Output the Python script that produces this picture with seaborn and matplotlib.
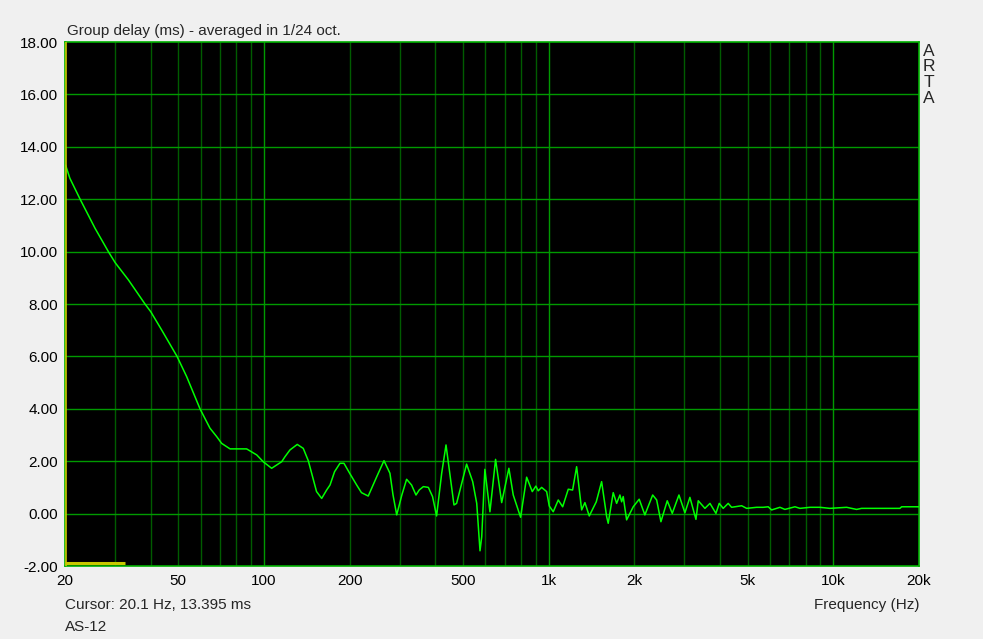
import numpy as np
import pandas as pd
import matplotlib
matplotlib.use("Agg")
import matplotlib.pyplot as plt
import seaborn as sns

# ---- data ----
freq_hz = [20.1, 20.8, 22.6, 25.5, 28.4, 30.0, 33.4, 38.2, 40.0, 43.7, 49.5, 53.5, 59.6, 64.6, 68.2, 71.0, 76.0,
           86.9, 94.3, 99.4, 106.4, 115.4, 118.5, 123.4, 130.9, 137.4, 143.1, 147, 153,
           159.5, 166, 170.6, 177, 184.9, 191, 200, 211.7, 220, 232.4, 249, 264, 277,
           284, 292.6, 305, 317, 330, 342, 351, 363, 378, 391, 404, 421, 436,
           465, 475, 515, 541, 559, 574, 582, 597, 622, 651, 684, 725, 751, 797, 837,
           876, 902, 919, 945, 984, 1005, 1038, 1081, 1120, 1172, 1214, 1254, 1306,
           1341, 1389, 1470, 1535, 1599, 1619, 1686, 1733, 1780, 1805, 1828, 1879,
           1982, 2080, 2178, 2320, 2396, 2480, 2610, 2718, 2869, 3011, 3135, 3292,
           3354, 3540, 3687, 3870, 3974, 4104, 4274, 4392, 4765, 4961, 5378, 5673,
           5907, 6072, 6494, 6761, 7332, 7635, 8278, 8975, 9727, 11138, 12072, 12570,
           17138, 17376, 20000]
delay_ms = [13.30, 12.80, 12.00, 10.89, 10.00, 9.58, 8.92, 8.00, 7.71, 7.01, 6.00, 5.23, 4.00, 3.26, 2.94, 2.68, 2.47,
            2.47, 2.24, 1.98, 1.73, 1.98, 2.17, 2.43, 2.64, 2.49, 2.02, 1.54, 0.84,
            0.58, 0.90, 1.09, 1.60, 1.92, 1.92, 1.54, 1.09, 0.80, 0.67, 1.41, 2.02, 1.54,
            0.71, -0.05, 0.71, 1.31, 1.09, 0.71, 0.90, 1.03, 1.00, 0.65, -0.09, 1.54, 2.62,
            0.33, 0.39, 1.89, 1.22, 0.39, -1.42, -0.88, 1.69, 0.07, 2.07, 0.42, 1.73, 0.71, -0.14, 1.39,
            0.84, 1.05, 0.87, 1.00, 0.84, 0.29, 0.07, 0.52, 0.26, 0.93, 0.90, 1.79, 0.14,
            0.42, -0.09, 0.45, 1.22, -0.12, -0.37, 0.80, 0.39, 0.71, 0.45, 0.65, -0.24,
            0.26, 0.55, -0.05, 0.71, 0.52, -0.31, 0.49, 0.01, 0.71, 0.03, 0.62, -0.22,
            0.49, 0.20, 0.39, 0.01, 0.39, 0.20, 0.39, 0.24, 0.30, 0.20, 0.24, 0.24,
            0.26, 0.14, 0.24, 0.16, 0.26, 0.20, 0.24, 0.24, 0.20, 0.24, 0.16, 0.20,
            0.20, 0.26, 0.26]

x_tick_values = [20, 50, 100, 200, 500, 1000, 2000, 5000, 10000, 20000]
x_tick_labels = ["20", "50", "100", "200", "500", "1k", "2k", "5k", "10k", "20k"]
y_tick_values = [-2, 0, 2, 4, 6, 8, 10, 12, 14, 16, 18]
grid_freqs = [k * 10 ** e for e in (1, 2, 3, 4) for k in range(1, 10)
              if 20 <= k * 10 ** e <= 20000]
decade_freqs = [100, 1000, 10000]
cursor_freq = 20.1
marker_end_freq = 32.5
marker_level = -1.87

title_text = "Group delay (ms) - averaged in 1/24 oct."
cursor_text = "Cursor: 20.1 Hz, 13.395 ms"
name_text = "AS-12"
xlabel_text = "Frequency (Hz)"
brand_text = "ARTA"

# ---- figure ----
sns.set_theme(style="dark")
plt.rcParams["font.family"] = ["Liberation Sans", "DejaVu Sans"]

fig = plt.figure(figsize=(9.83, 6.39), dpi=100, facecolor="#f0f0f0")
ax = fig.add_axes([65 / 983, 1 - 566 / 639, 854 / 983, 524 / 639])
ax.set_facecolor("black")

df = pd.DataFrame({"f": freq_hz, "d": delay_ms})

ax.set_xscale("log")
ax.set_xlim(20, 20000)
ax.set_ylim(-2, 18)

# grid
for g in grid_freqs:
    if g in decade_freqs:
        ax.axvline(g, color="#009a00", lw=1.0, zorder=1)
    elif g != 20 and g != 20000:
        ax.axvline(g, color="#005c00", lw=1.0, zorder=1)
for yv in y_tick_values[1:-1]:
    ax.axhline(yv, color="#009a00", lw=1.0, zorder=1)

sns.lineplot(data=df, x="f", y="d", ax=ax, color="#00ff00", lw=1.1,
             sort=False, estimator=None, zorder=3)

# cursor marker (yellow)
ax.hlines(marker_level, 20, marker_end_freq, color="#c8c800", lw=2.2, zorder=4)
ax.axvline(cursor_freq, color="#c8c800", lw=1.2, zorder=4)

ax.set_xticks(x_tick_values)
ax.set_xticklabels(x_tick_labels)
ax.xaxis.set_minor_locator(matplotlib.ticker.NullLocator())
ax.set_yticks(y_tick_values)
ax.set_yticklabels([f"{v:.2f}" for v in y_tick_values])
ax.tick_params(axis="both", length=0, labelsize=11, colors="black")
ax.tick_params(axis="x", pad=6)
ax.tick_params(axis="y", pad=5)
ax.grid(False)
ax.set_xlabel("")
ax.set_ylabel("")
for s in ax.spines.values():
    s.set_visible(True)
    s.set_color("#00b000")
    s.set_linewidth(1.2)

fig.text(67 / 983, 1 - 31 / 639, title_text, fontsize=11, ha="left", va="center")
fig.text(65 / 983, 1 - 605 / 639, cursor_text, fontsize=11, ha="left", va="center")
fig.text(65 / 983, 1 - 627 / 639, name_text, fontsize=11, ha="left", va="center")
fig.text(919 / 983, 1 - 605 / 639, xlabel_text, fontsize=11, ha="right", va="center")
for i, ch in enumerate(brand_text):
    fig.text(929 / 983, 1 - (51 + i * 15.8) / 639, ch, fontsize=12.5, ha="center", va="center")

fig.savefig("out.png", dpi=100, facecolor=fig.get_facecolor())
